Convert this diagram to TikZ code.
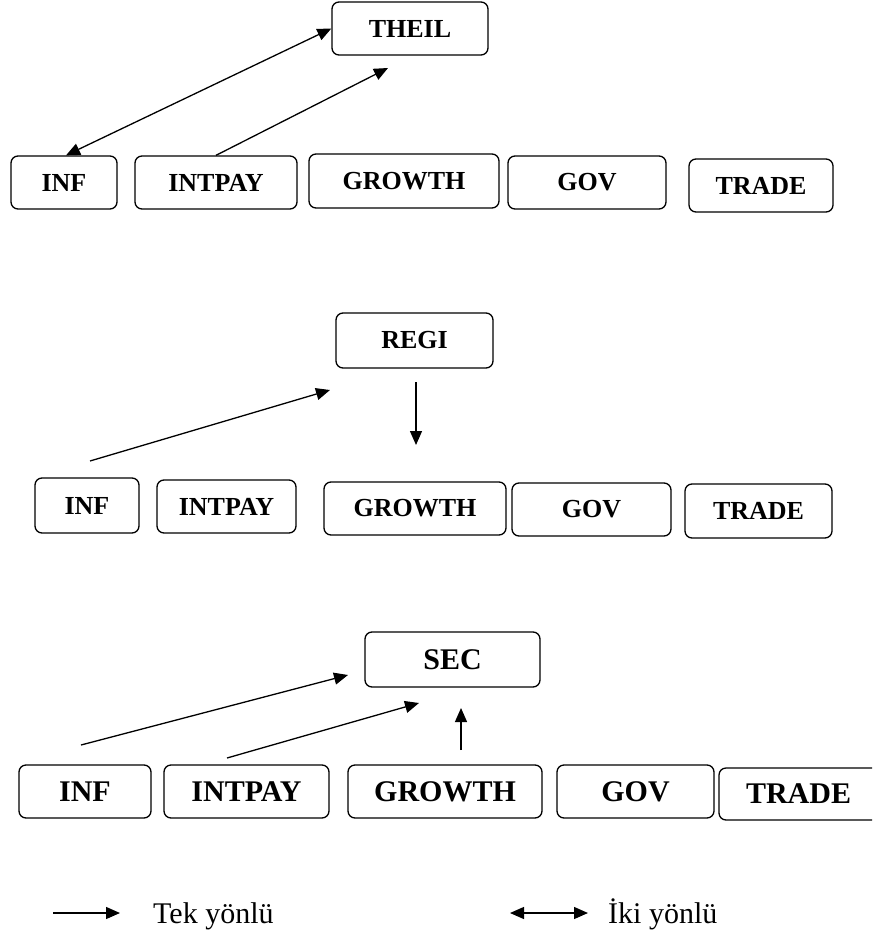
\documentclass[tikz,border=0pt]{standalone}
\usepackage{fontspec}
\setmainfont{Liberation Serif}
\usetikzlibrary{arrows.meta}
\begin{document}
\begin{tikzpicture}[x=1pt,y=-1pt,
  box/.style={draw,rounded corners=7pt,line width=1.3pt,inner sep=0pt,
    font=\bfseries\fontsize{26}{30}\selectfont},
  bigbox/.style={box,font=\bfseries\fontsize{30}{34}\selectfont},
  onearrow/.style={line width=1.3pt,-{Triangle[length=14pt,width=12pt]}},
  twoarrow/.style={line width=1.3pt,{Triangle[length=14pt,width=12pt]}-{Triangle[length=14pt,width=12pt]}},
  legendtext/.style={anchor=base west,inner sep=0pt,font=\fontsize{30}{34}\selectfont}]
\useasboundingbox (0,0) rectangle (872,933);
\clip (0,0) rectangle (872,933);
% ---- top: THEIL ----
\node[box,minimum width=156pt,minimum height=53pt] (theil) at (410,28.5) {THEIL};
\node[box,minimum width=106pt,minimum height=53pt] (inf1) at (64,182.5) {INF};
\node[box,minimum width=162pt,minimum height=53pt] (intpay1) at (216,182.5) {INTPAY};
\node[box,minimum width=190pt,minimum height=54pt] (growth1) at (404,181) {GROWTH};
\node[box,minimum width=158pt,minimum height=53pt] (gov1) at (587,182.5) {GOV};
\node[box,minimum width=144pt,minimum height=53pt] (trade1) at (761,185.5) {TRADE};
\coordinate (t1) at (388,68);
\draw[twoarrow] ([xshift=2pt]inf1.north) -- (theil.west);
\draw[onearrow] (intpay1.north) -- (t1);
% ---- middle: REGI ----
\node[box,minimum width=157pt,minimum height=55pt] (regi) at (414.5,340.5) {REGI};
\node[box,minimum width=104pt,minimum height=55pt] (inf2) at (87,505.5) {INF};
\node[box,minimum width=139pt,minimum height=53pt] (intpay2) at (226.5,506.5) {INTPAY};
\node[box,minimum width=182pt,minimum height=53pt] (growth2) at (415,508.5) {GROWTH};
\node[box,minimum width=159pt,minimum height=53pt] (gov2) at (591.5,509.5) {GOV};
\node[box,minimum width=147pt,minimum height=54pt] (trade2) at (758.5,511) {TRADE};
\coordinate (m1) at (90,461);
\coordinate (m2) at (330,390);
\coordinate (m3) at (416,382);
\coordinate (m4) at (416,445);
\draw[onearrow] (m1) -- (m2);
\draw[onearrow] (m3) -- (m4);
% ---- bottom: SEC ----
\node[bigbox,minimum width=175pt,minimum height=55pt] (sec) at (452.5,659.5) {SEC};
\node[bigbox,minimum width=132pt,minimum height=53pt] (inf3) at (85,791.5) {INF};
\node[bigbox,minimum width=165pt,minimum height=53pt] (intpay3) at (246.5,791.5) {INTPAY};
\node[bigbox,minimum width=194pt,minimum height=53pt] (growth3) at (445,791.5) {GROWTH};
\node[bigbox,minimum width=157pt,minimum height=53pt] (gov3) at (635.5,791.5) {GOV};
\node[bigbox,minimum width=172pt,minimum height=52pt,text width=150pt,align=left] (trade3) at (805,794) {\hspace*{16pt}TRADE};
\coordinate (s1) at (81,745);
\coordinate (s2) at (348,675);
\coordinate (s3) at (227,758);
\coordinate (s4) at (419,703);
\coordinate (s5) at (461,750);
\coordinate (s6) at (461,708);
\draw[onearrow] (s1) -- (s2);
\draw[onearrow] (s3) -- (s4);
\draw[onearrow] (s5) -- (s6);
% ---- legend ----
\coordinate (l1) at (53,913);
\coordinate (l2) at (120,913);
\coordinate (l3) at (510,913);
\coordinate (l4) at (588,913);
\draw[onearrow] (l1) -- (l2);
\draw[twoarrow] (l3) -- (l4);
\node[legendtext] (tek) at (153,923) {Tek yönlü};
\node[legendtext] (iki) at (608,923) {İki yönlü};
\end{tikzpicture}
\end{document}
